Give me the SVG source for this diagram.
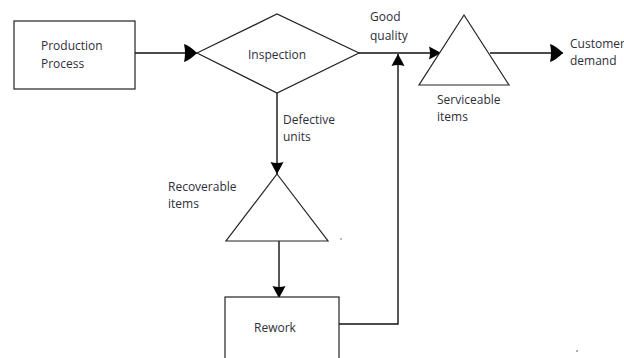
<svg xmlns="http://www.w3.org/2000/svg" width="624" height="358" viewBox="0 0 624 358">
<style>
.s{fill:#fff;stroke:#222;stroke-width:1.2}
.c{fill:none;stroke:#111;stroke-width:1.4}
.t{font-family:"Open Sans","Liberation Sans",sans-serif;font-size:12px;fill:#2e2e3a}
</style>
<defs>
<marker id="a" markerUnits="userSpaceOnUse" markerWidth="16" markerHeight="22" refX="14" refY="11" orient="auto">
<path d="M1,2 Q7,4 14,11 Q7,18 1,20 Q3,11 1,2 Z" fill="#000"/>
</marker>
<marker id="b" markerUnits="userSpaceOnUse" markerWidth="16" markerHeight="16" refX="13" refY="8" orient="auto">
<path d="M1,1.5 Q6,4 13,8 Q6,12 1,14.5 Q3,8 1,1.5 Z" fill="#000"/>
</marker>
</defs>
<rect width="624" height="358" fill="#fff"/>
<g id="connectors">
<path class="c" d="M135,53 H197" marker-end="url(#a)"/>
<path class="c" d="M359,53 H441" marker-end="url(#b)"/>
<path class="c" d="M339,324 H398 V54" marker-end="url(#b)"/>
<path class="c" d="M490,53 H563" marker-end="url(#a)"/>
<path class="c" d="M277,93 V174" marker-end="url(#b)"/>
<path class="c" d="M279,241 V298" marker-end="url(#b)"/>
</g>
<g id="production">
<rect class="s" x="14" y="21" width="121" height="68"/>
<text class="t" x="41" y="50">Production</text>
<text class="t" x="41" y="68">Process</text>
</g>
<g id="inspection">
<polygon class="s" points="197,53 277,14 359,53 277,93"/>
<text class="t" x="248" y="59">Inspection</text>
</g>
<g id="good-quality">
<text class="t" x="370" y="21">Good</text>
<text class="t" x="370" y="40">quality</text>
</g>
<g id="serviceable">
<polygon class="s" points="464,15 509,85 419,85"/>
<text class="t" x="437" y="104">Serviceable</text>
<text class="t" x="437" y="121">items</text>
</g>
<g id="customer">
<text class="t" x="570" y="48">Customer</text>
<text class="t" x="570" y="65">demand</text>
</g>
<g id="defective">
<text class="t" x="283" y="124">Defective</text>
<text class="t" x="283" y="141">units</text>
</g>
<g id="recoverable">
<polygon class="s" points="277,174 328,241 226,241"/>
<text class="t" x="168" y="191">Recoverable</text>
<text class="t" x="168" y="208">items</text>
<circle cx="341" cy="239" r="0.7" fill="#444"/>
</g>
<g id="rework">
<rect class="s" x="225" y="297" width="114" height="70"/>
<text class="t" x="254" y="332">Rework</text>
</g>
<circle cx="577" cy="351" r="0.8" fill="#444"/>
</svg>
